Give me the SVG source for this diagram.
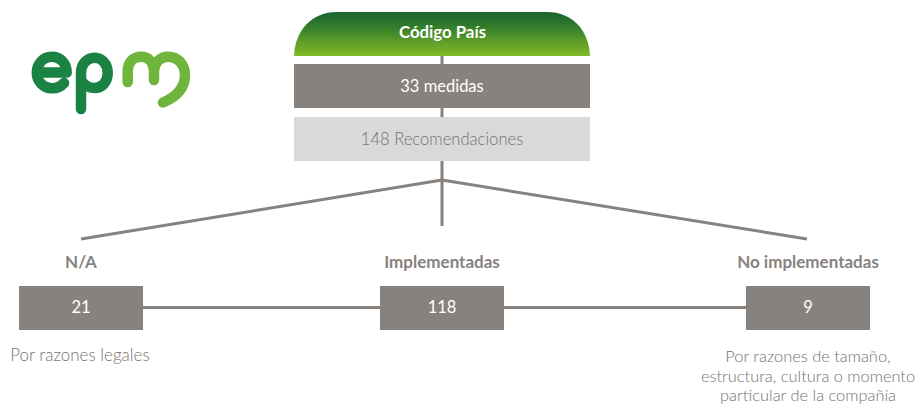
<svg xmlns="http://www.w3.org/2000/svg" width="917" height="404" viewBox="0 0 917 404">
<style>
text{font-family:"Lato","Open Sans",sans-serif;text-anchor:middle;font-size:17px;font-weight:300}
.b{font-weight:700;font-size:17px;fill:#87827e}
.w{fill:#fff;font-weight:400;font-size:16.500px}
.g{fill:#76726f}
.s{font-size:16.400px}
.box{fill:#87827e}
.ln{stroke:#87827e;stroke-width:3;fill:none}
.lg{fill:none;stroke-width:10.500;stroke-linecap:round;stroke-linejoin:round}
</style>
<defs><linearGradient id="hd" x1="0" y1="0" x2="0" y2="1"><stop offset="0" stop-color="#1a642f"/><stop offset="0.3" stop-color="#2f7a2c"/><stop offset="1" stop-color="#84bb27"/></linearGradient></defs>
<rect width="917" height="404" fill="#fff"/>
<g id="logo">
<path class="lg" stroke="#1a8243" d="M37 72.500H66.700C66.700 63 60 56.800 52 56.800C43 56.800 36.800 64 36.800 72.500C36.800 82 44 88.300 52 88.300C57 88.300 61 86.500 64 83"/>
<path class="lg" stroke="#1a8243" d="M81 109V73C81 64 87 57.700 94.500 57.700C102 57.700 107.700 64 107.700 73C107.700 82 102 88 94.500 88C89 88 84.500 85.500 81 80"/>
<path class="lg" stroke="#6fb53c" d="M127.700 82V71C127.700 63 133 56.700 141 56.700C149 56.700 154 63 154 71V80M154 71C154 63 160 56.700 168 56.700C178 56.700 185 65 185 75C185 88 176 97 163 102.500"/>
</g>
<g id="connectors">
<path class="ln" d="M442 56V226M442 180L81 239M442 180L807 239M143 307.500H380M504 307.500H746"/>
</g>
<g id="codigo-pais">
<path d="M294 56C295 30 312 12 337 12H547C572 12 589 30 590 56Z" fill="url(#hd)"/>
<text class="w" x="442.500" y="38" style="font-weight:700;font-size:16.800px">Código País</text>
</g>
<g id="medidas"><rect class="box" x="294" y="64" width="296" height="44"/><text class="w" x="442" y="91.500">33 medidas</text></g>
<g id="recomendaciones"><rect x="294" y="117" width="296" height="44" fill="#d9d9d9"/><text class="g" x="442" y="144.500" style="font-size:16.600px">148 Recomendaciones</text></g>
<g id="na"><text class="b" x="81" y="267.500">N/A</text><rect class="box" x="19" y="286" width="124" height="44"/><text class="w" x="81" y="313">21</text><text class="g" x="80" y="361">Por razones legales</text></g>
<g id="implementadas"><text class="b" x="442" y="267.500">Implementadas</text><rect class="box" x="380" y="286" width="124" height="44"/><text class="w" x="442" y="313">118</text></g>
<g id="no-implementadas"><text class="b" x="808" y="267.500">No implementadas</text><rect class="box" x="746" y="286" width="124" height="44"/><text class="w" x="808" y="313">9</text>
<text class="g s" x="808" y="362">Por razones de tamaño,</text><text class="g s" x="808" y="381.500">estructura, cultura o momento</text><text class="g s" x="808" y="401">particular de la compañía</text></g>
</svg>
